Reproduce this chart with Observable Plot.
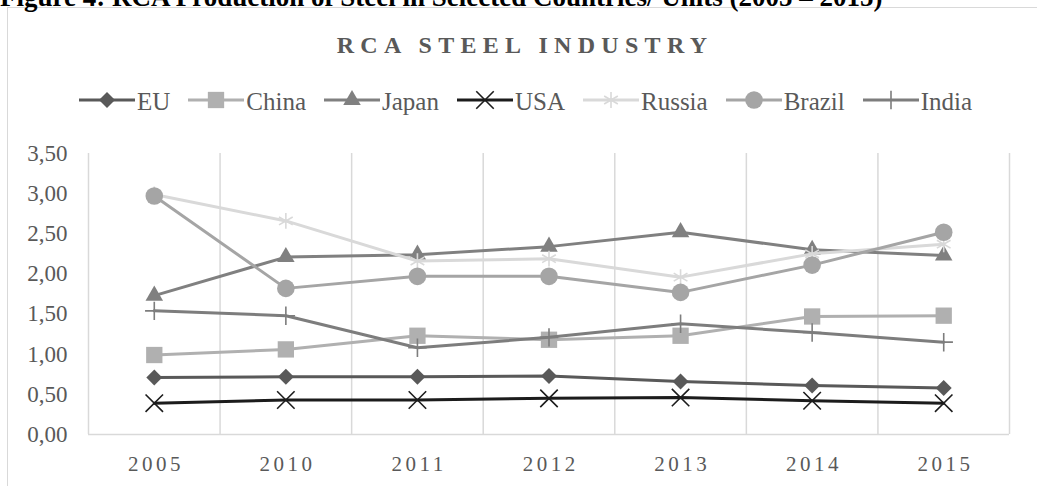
<!DOCTYPE html>
<html><head><meta charset="utf-8">
<script src="https://cdn.jsdelivr.net/npm/d3@7"></script>
<script src="https://cdn.jsdelivr.net/npm/@observablehq/plot@0.6"></script>
<style>
html,body{margin:0;padding:0;background:#fff;}
body{width:1037px;height:486px;overflow:hidden;position:relative;font-family:"Liberation Serif","Times New Roman",serif;}
#caption{position:absolute;left:0;top:-16px;font-weight:bold;font-size:27px;line-height:1;color:#000;white-space:nowrap;}
#frame{position:absolute;left:7px;top:7px;width:1200px;height:700px;border-left:1.5px solid #d9d9d9;border-top:1.5px solid #d9d9d9;}
#title{position:absolute;left:0;width:1038px;padding-left:6px;top:33px;text-align:center;font-weight:bold;font-size:24px;line-height:1;letter-spacing:6.3px;color:#595959;white-space:nowrap;}
#legend{position:absolute;left:79px;top:89px;display:flex;align-items:flex-start;font-size:25px;line-height:1;color:#595959;white-space:nowrap;}
#legend .item{display:flex;align-items:flex-start;margin-right:18px;}
#legend .item span{margin-left:2px;}
#chart{position:absolute;left:0;top:0;}
#chart g[aria-label="x-axis tick label"] text{letter-spacing:3.5px;}
</style>
</head><body>
<div id="frame"></div>
<div id="caption">Figure 4: RCA Production of Steel in Selected Countries/ Units (2005 – 2015)</div>
<div id="title">RCA STEEL INDUSTRY</div>
<div id="legend"></div>
<div id="chart"></div>
<script>
const years = ["2005","2010","2011","2012","2013","2014","2015"];
const seriesNames = ["EU","China","Japan","USA","Russia","Brazil","India"];
const EU     = [0.71, 0.72, 0.72, 0.73, 0.66, 0.61, 0.58];
const China  = [0.99, 1.06, 1.23, 1.18, 1.23, 1.47, 1.48];
const Japan  = [1.73, 2.21, 2.24, 2.34, 2.52, 2.30, 2.23];
const USA    = [0.39, 0.43, 0.43, 0.45, 0.46, 0.42, 0.39];
const Russia = [2.99, 2.66, 2.16, 2.19, 1.96, 2.25, 2.37];
const Brazil = [2.97, 1.82, 1.97, 1.97, 1.77, 2.11, 2.52];
const India  = [1.54, 1.48, 1.08, 1.21, 1.38, 1.27, 1.15];
const yTicks = [0, 0.5, 1, 1.5, 2, 2.5, 3, 3.5];

const seriesValues = [EU, China, Japan, USA, Russia, Brazil, India];
// styling per series
const styles = {
  EU:     {color:"#595959", symbol:"diamond2", r:7.2, filled:true},
  China:  {color:"#b0b0b0", symbol:"square",   r:9.2, filled:true},
  Japan:  {color:"#808080", symbol:"triangle", r:6.5, filled:true},
  USA:    {color:"#1c1c1c", symbol:"times",    r:8.0, filled:false},
  Russia: {color:"#d9d9d9", symbol:"asterisk", r:7.5, filled:false},
  Brazil: {color:"#a5a5a5", symbol:"circle",   r:8.8, filled:true},
  India:  {color:"#7d7d7d", symbol:"plus",     r:6.0, filled:false}
};

const idx = d3.range(years.length);
const marks = [
  Plot.ruleX(d3.range(years.length + 1).map(i => i - 0.5), {stroke:"#d9d9d9", strokeWidth:1.5}),
  Plot.ruleY([0], {stroke:"#d9d9d9", strokeWidth:1.5}),
  Plot.axisX(idx, {tickSize:0, tickPadding:22, tickFormat: i => years[i], fontSize:21, dx:1.75, label:null}),
  Plot.axisY(yTicks, {tickSize:0, tickPadding:21, tickFormat: d => d.toFixed(2).replace(".", ","), fontSize:23, label:null})
];
seriesNames.forEach((name, k) => {
  const s = styles[name];
  const data = seriesValues[k].map((v, i) => ({i, v}));
  marks.push(Plot.line(data, {x:"i", y:"v", stroke:s.color, strokeWidth:3, strokeLinejoin:"round", strokeLinecap:"round"}));
  marks.push(Plot.dot(data, s.filled
    ? {x:"i", y:"v", symbol:s.symbol, r:s.r, fill:s.color, stroke:"none"}
    : {x:"i", y:"v", symbol:s.symbol, r:s.r, fill:"none", stroke:s.color, strokeWidth:1.6}));
});

const chart = Plot.plot({
  width:1037, height:486,
  marginTop:153, marginBottom:52, marginLeft:88, marginRight:28,
  style:{fontFamily:"'Liberation Serif','Times New Roman',serif", color:"#595959", background:"transparent", overflow:"visible"},
  x:{type:"linear", domain:[-0.5, years.length - 0.5], axis:null, label:null},
  y:{domain:[0, 3.5], axis:null, label:null},
  marks
});
document.getElementById("chart").appendChild(chart);

// legend
const legend = document.getElementById("legend");
const symMap = {diamond2:d3.symbolDiamond2, square:d3.symbolSquare, triangle:d3.symbolTriangle,
  times:d3.symbolTimes, asterisk:d3.symbolAsterisk, circle:d3.symbolCircle, plus:d3.symbolPlus};
seriesNames.forEach(name => {
  const s = styles[name];
  const item = document.createElement("div");
  item.className = "item";
  const svg = d3.create("svg").attr("width", 56).attr("height", 25);
  svg.append("line").attr("x1", 0).attr("x2", 56).attr("y1", 11).attr("y2", 11)
    .attr("stroke", s.color).attr("stroke-width", 3);
  const p = svg.append("path").attr("transform", "translate(28,11)")
    .attr("d", d3.symbol(symMap[s.symbol], s.r * s.r * Math.PI)());
  if (s.filled) p.attr("fill", s.color); else p.attr("fill", "none").attr("stroke", s.color).attr("stroke-width", 1.6);
  item.appendChild(svg.node());
  const t = document.createElement("span");
  t.textContent = name;
  item.appendChild(t);
  legend.appendChild(item);
});
</script>
</body></html>
